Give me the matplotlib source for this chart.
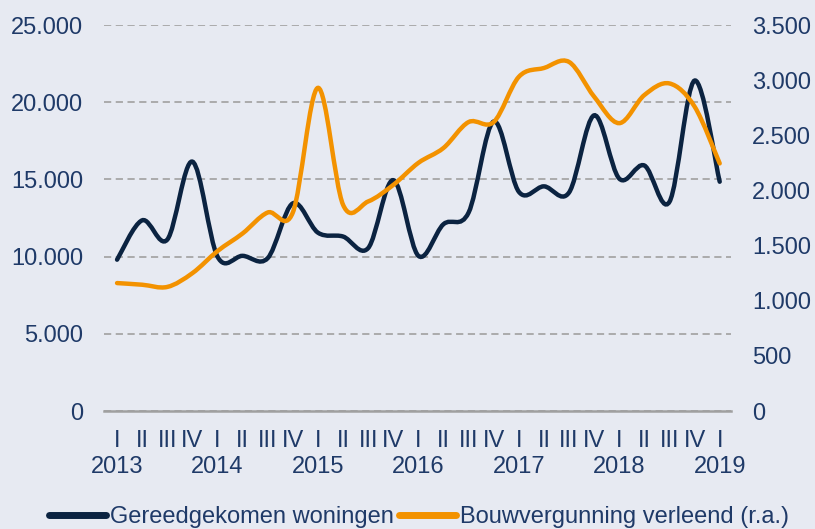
import matplotlib.pyplot as plt
from matplotlib.path import Path
from matplotlib.patches import PathPatch
from matplotlib.lines import Line2D
import numpy as np

# Kwartaaldata 2013-I t/m 2019-I
kwartalen = ["I", "II", "III", "IV"] * 6 + ["I"]
jaren = ["2013", "2014", "2015", "2016", "2017", "2018", "2019"]

gereedgekomen = [9800, 12350, 11100, 16150, 10000, 10050, 9900, 13450,
                 11550, 11300, 10550, 14950, 10050, 12100, 12850, 18750,
                 14200, 14550, 14150, 19150, 15050, 15900, 13550, 21400,
                 14850]
vergunningen = [1160, 1145, 1125, 1250, 1450, 1610, 1800, 1800,
                2930, 1870, 1900, 2050, 2250, 2385, 2620, 2620,
                3030, 3110, 3165, 2850, 2610, 2865, 2970, 2760,
                2245]

bg = "#E7EAF2"
tekst = "#1F3A68"
donker = "#0B2341"
oranje = "#F39200"


def gladde_lijn(x, y):
    # Catmull-Rom -> Bezier, zoals een "vloeiende lijn" in Excel
    p = np.column_stack([x, y]).astype(float)
    n = len(p)
    verts = [p[0]]
    codes = [Path.MOVETO]
    for i in range(n - 1):
        p0 = p[i - 1] if i > 0 else p[i]
        p1 = p[i]
        p2 = p[i + 1]
        p3 = p[i + 2] if i + 2 < n else p[i + 1]
        verts += [p1 + (p2 - p0) / 6, p2 - (p3 - p1) / 6, p2]
        codes += [Path.CURVE4] * 3
    return Path(verts, codes)


x = np.arange(len(kwartalen))
jaar_pos = [i for i, k in enumerate(kwartalen) if k == "I"]

plt.rcParams["font.family"] = ["Liberation Sans", "DejaVu Sans"]

fig = plt.figure(figsize=(8.15, 5.29), dpi=100, facecolor=bg)
ax = fig.add_axes([104 / 815, 1 - 411 / 529, 627 / 815, 386 / 529])
ax.set_facecolor(bg)
ax2 = ax.twinx()
ax2.patch.set_visible(False)

ax.add_patch(PathPatch(gladde_lijn(x, gereedgekomen), fill=False,
                       edgecolor=donker, lw=3.2, capstyle="round", zorder=3))
ax2.add_patch(PathPatch(gladde_lijn(x, vergunningen), fill=False,
                        edgecolor=oranje, lw=3.2, capstyle="round", zorder=3))

ax.set_xlim(-0.52, 24.45)
ax.set_ylim(0, 25000)
ax2.set_ylim(0, 3500)
ax.set_yticks(range(0, 25001, 5000))
ax2.set_yticks(range(0, 3501, 500))
fmt = lambda v: f"{int(v):,}".replace(",", ".")
ax.set_yticklabels([fmt(v) for v in ax.get_yticks()])
ax2.set_yticklabels([fmt(v) for v in ax2.get_yticks()])

# kwartalen als hoofdticks, jaren als minor ticks eronder
ax.xaxis.remove_overlapping_locs = False
ax.set_xticks(x)
ax.set_xticklabels(kwartalen)
ax.set_xticks(jaar_pos, minor=True)
ax.set_xticklabels(jaren, minor=True)

ax.grid(axis="y", color="#A6A6A6", linestyle=(0, (4, 2.5)), lw=1.3)
ax.set_axisbelow(True)
for a in (ax, ax2):
    for s in a.spines.values():
        s.set_visible(False)
    a.tick_params(which="both", length=0, labelsize=17, labelcolor=tekst)
ax.spines["bottom"].set_visible(True)
ax.spines["bottom"].set_color("#A0A0A0")
ax.spines["bottom"].set_linewidth(1.8)
ax.tick_params(axis="y", pad=15)
ax2.tick_params(axis="y", pad=15)
ax.tick_params(axis="x", which="major", pad=14)
ax.tick_params(axis="x", which="minor", pad=32.5)

handles = [Line2D([], [], color=donker, lw=5, solid_capstyle="round"),
           Line2D([], [], color=oranje, lw=5, solid_capstyle="round")]
fig.legend(handles, ["Gereedgekomen woningen", "Bouwvergunning verleend (r.a.)"],
           loc="center", bbox_to_anchor=(419 / 815, 1 - 517 / 529), ncol=2,
           frameon=False, fontsize=17, labelcolor=tekst, handlelength=2.4,
           handletextpad=0.15, columnspacing=0.25, borderpad=0)

plt.savefig("out.png", dpi=100, facecolor=bg)
